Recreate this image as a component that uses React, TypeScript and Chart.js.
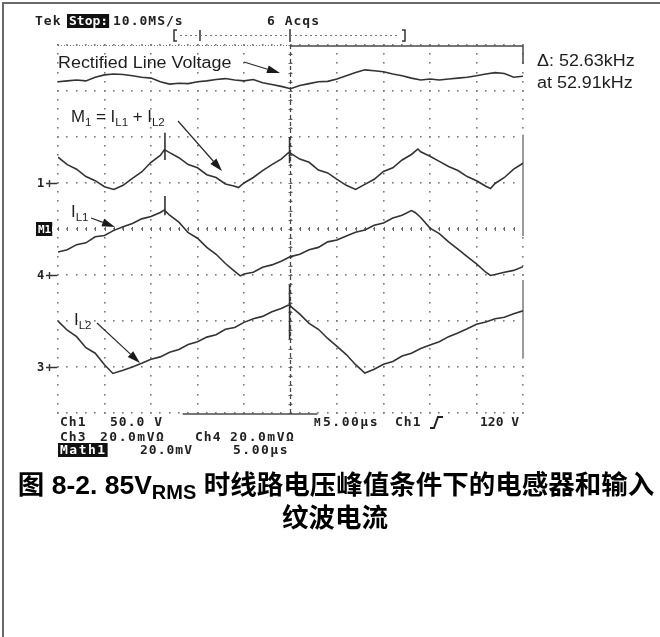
import React, { useEffect, useRef } from "react";
import { Chart, registerables } from "chart.js";

Chart.register(...registerables);

// Time axis: 5.00 µs/div, 10 divisions. Vertical: 8 divisions (value in divisions from bottom).
const timeMin = 0;
const timeMax = 50;
const timePerDiv = 5;
const divCount = 8;

// Rectified line voltage (Ch1)
const lineVoltT = [0,1,2,3,4,5,6,7,8,9,10,11,12,13,14,15,16,17,18,19,20,21,22,23,24,25,26,27,28,29,30,31,32,33,34,35,36,37,38,39,40,41,42,43,44,45,46,47,48,49,50];
const lineVoltV = [7.20,7.22,7.24,7.22,7.30,7.35,7.37,7.36,7.33,7.30,7.28,7.20,7.15,7.17,7.16,7.20,7.22,7.25,7.27,7.24,7.22,7.25,7.18,7.14,7.10,7.05,7.12,7.16,7.20,7.21,7.26,7.33,7.40,7.46,7.44,7.42,7.37,7.33,7.28,7.24,7.26,7.24,7.26,7.28,7.30,7.33,7.37,7.40,7.38,7.30,7.32];

// M1 = IL1 + IL2
const m1T = [0,1,2,3,4,5,6,7,8,9,10,11,11.5,11.5,11.5,11.5,12,13,14,15,16,17,18,19,19.4,20,21,22,23,24,24.9,24.9,24.9,24.9,26,27,28,29,30,31,32,33,34,35,36,37,38,38.7,39,40,41,42,43,44,45,46,46.5,47,48,49,50];
const m1V = [5.56,5.40,5.30,5.14,5.05,4.92,4.86,4.95,5.10,5.24,5.45,5.60,5.74,6.09,5.50,5.72,5.66,5.55,5.40,5.33,5.18,5.12,4.98,4.93,4.90,5.00,5.12,5.27,5.40,5.52,5.68,6.00,5.43,5.66,5.52,5.45,5.28,5.22,5.08,4.95,4.86,4.97,5.08,5.25,5.33,5.50,5.62,5.74,5.68,5.58,5.47,5.36,5.27,5.14,5.05,4.93,4.88,4.99,5.12,5.30,5.43];

// IL1
const il1T = [0,1,2,3,4,5,6,7,8,9,10,11,11.5,11.5,11.5,11.5,12,13,14,15,16,17,18,19,19.6,20,21,22,23,24,25,26,27,28,29,30,31,32,33,34,35,36,37,38,38.4,39,40,41,42,43,44,45,46,46.5,47,48,49,50];
const il1V = [3.50,3.55,3.66,3.70,3.83,3.86,3.97,4.05,4.12,4.22,4.27,4.36,4.42,4.72,4.30,4.40,4.30,4.15,3.92,3.80,3.60,3.45,3.25,3.08,2.98,3.02,3.06,3.17,3.22,3.30,3.40,3.45,3.55,3.60,3.72,3.76,3.85,3.93,3.98,4.08,4.13,4.24,4.30,4.40,4.36,4.25,4.02,3.90,3.72,3.56,3.40,3.24,3.06,2.99,3.01,3.06,3.10,3.18];

// IL2
const il2T = [0,1,2,3,4,5,5.9,7,8,9,10,11,12,13,14,15,16,17,18,19,20,21,22,23,24,24.9,24.9,24.9,24.9,26,27,28,29,30,31,32,33,34,35,36,37,38,39,40,41,42,43,44,45,46,47,48,49,50];
const il2V = [2.00,1.80,1.66,1.42,1.30,1.05,0.86,0.93,1.00,1.08,1.17,1.22,1.32,1.38,1.49,1.55,1.65,1.70,1.82,1.86,1.97,2.05,2.10,2.20,2.27,2.36,2.78,1.60,2.34,2.15,1.95,1.82,1.62,1.45,1.27,1.05,0.87,0.95,1.06,1.12,1.24,1.30,1.40,1.48,1.55,1.66,1.74,1.83,1.93,1.98,2.05,2.08,2.16,2.22];

// Channel reference markers on the left edge
const markerLabels = ["1", "M1", "4", "3"];
const markerLevels = [5, 4, 3, 1];

const captionLine1a = "图 8-2. 85V";
const captionSub = "RMS";
const captionLine1b = " 时线路电压峰值条件下的电感器和输入";
const captionLine2 = "纹波电流";

const SANS = '"Liberation Sans", Arial, sans-serif';
const MONO = '"DejaVu Sans Mono", monospace';
const CAP = '"Liberation Sans", "Noto Sans CJK SC", sans-serif';

type Part = { t: string; sub?: boolean };

function richText(ctx: CanvasRenderingContext2D, parts: Part[], x: number, y: number, size: number, sx = 1.12) {
  let cx = x;
  for (const p of parts) {
    const fs = p.sub ? Math.round(size * 0.68) : size;
    ctx.save();
    ctx.font = `${fs}px ${SANS}`;
    ctx.fillStyle = "#1e1e1e";
    ctx.textBaseline = "alphabetic";
    ctx.translate(cx, y + (p.sub ? 4 : 0));
    ctx.scale(sx, 1);
    ctx.fillText(p.t, 0, 0);
    const w = ctx.measureText(p.t).width * sx;
    ctx.restore();
    cx += w;
  }
}

function scopeText(ctx: CanvasRenderingContext2D, t: string, x: number, y: number, opts: { badge?: boolean; size?: number; spacing?: string } = {}) {
  const size = opts.size ?? 13;
  ctx.save();
  ctx.font = `bold ${size}px ${MONO}`;
  (ctx as any).letterSpacing = opts.spacing ?? "1px";
  ctx.textBaseline = "middle";
  const w = ctx.measureText(t).width;
  if (opts.badge) {
    ctx.fillStyle = "#111";
    ctx.fillRect(x - 2, y - 7, w + 3, 14);
    ctx.fillStyle = "#fff";
  } else {
    ctx.fillStyle = "#222";
  }
  ctx.fillText(t, x, y + 1);
  ctx.restore();
}

function arrow(ctx: CanvasRenderingContext2D, x1: number, y1: number, x2: number, y2: number) {
  const a = Math.atan2(y2 - y1, x2 - x1);
  const L = 13, W = 4;
  const c = Math.cos(a), s = Math.sin(a);
  ctx.save();
  ctx.strokeStyle = "#2a2a2a";
  ctx.fillStyle = "#1a1a1a";
  ctx.lineWidth = 1.2;
  ctx.beginPath();
  ctx.moveTo(x1, y1);
  ctx.lineTo(x2 - L * c, y2 - L * s);
  ctx.stroke();
  ctx.beginPath();
  ctx.moveTo(x2, y2);
  ctx.lineTo(x2 - L * c + W * s, y2 - L * s - W * c);
  ctx.lineTo(x2 - L * c - W * s, y2 - L * s + W * c);
  ctx.closePath();
  ctx.fill();
  ctx.restore();
}

const gridPlugin = {
  id: "scopeGrid",
  beforeDatasetsDraw(chart: any) {
    const { ctx, scales } = chart;
    const x = scales.x, y = scales.y;
    const top = y.getPixelForValue(divCount), bottom = y.getPixelForValue(0);
    const left = x.getPixelForValue(timeMin), right = x.getPixelForValue(timeMax);
    ctx.save();
    ctx.fillStyle = "#7a7a7a";
    for (let i = 0; i <= (timeMax - timeMin) / timePerDiv; i++) {
      const px = Math.round(x.getPixelForValue(timeMin + i * timePerDiv));
      for (let j = 0; j <= divCount * 5; j++) {
        const py = Math.round(y.getPixelForValue(j / 5));
        ctx.fillRect(px - 1, py - 1, 1.6, 1.6);
      }
    }
    for (let k = 0; k <= divCount; k++) {
      const py = Math.round(y.getPixelForValue(k));
      for (let t = timeMin; t <= timeMax; t += timePerDiv / 5) {
        const px = Math.round(x.getPixelForValue(t));
        ctx.fillRect(px - 1, py - 1, 1.6, 1.6);
      }
    }
    // center axis ticks
    const cx = x.getPixelForValue((timeMin + timeMax) / 2);
    const cy = y.getPixelForValue(divCount / 2);
    ctx.strokeStyle = "#666";
    ctx.lineWidth = 1;
    ctx.beginPath();
    for (let t = timeMin; t <= timeMax; t += timePerDiv / 5) {
      const px = Math.round(x.getPixelForValue(t)) + 0.5;
      ctx.moveTo(px, cy - 2);
      ctx.lineTo(px, cy + 2);
    }
    for (let j = 0; j <= divCount * 5; j++) {
      const py = Math.round(y.getPixelForValue(j / 5)) + 0.5;
      ctx.moveTo(cx - 2, py);
      ctx.lineTo(cx + 2, py);
    }
    ctx.stroke();
    // cursor (dashed) at center
    ctx.strokeStyle = "#4a4a4a";
    ctx.lineWidth = 1.3;
    ctx.setLineDash([4, 3]);
    ctx.beginPath();
    ctx.moveTo(cx, top);
    ctx.lineTo(cx, bottom);
    ctx.stroke();
    ctx.setLineDash([]);
    // frame pieces
    ctx.strokeStyle = "#4a4a4a";
    ctx.lineWidth = 1.5;
    ctx.beginPath();
    ctx.moveTo(cx, top + 1);
    ctx.lineTo(right, top + 1);
    ctx.lineTo(right, top + 19);
    ctx.stroke();
    ctx.strokeStyle = "#9a9a9a";
    ctx.lineWidth = 2;
    ctx.beginPath();
    ctx.moveTo(right, y.getPixelForValue(6.05));
    ctx.lineTo(right, y.getPixelForValue(3.85));
    ctx.moveTo(right, y.getPixelForValue(2.89));
    ctx.lineTo(right, y.getPixelForValue(1.2));
    ctx.stroke();
    ctx.strokeStyle = "#4a4a4a";
    ctx.lineWidth = 1.5;
    ctx.beginPath();
    ctx.moveTo(x.getPixelForValue(13.4), bottom + 1);
    ctx.lineTo(x.getPixelForValue(27.9), bottom + 1);
    ctx.stroke();
    ctx.fillStyle = "#777";
    for (let px = left; px < cx; px += 3) ctx.fillRect(px, top, 1, 1);
    ctx.restore();
  },
};

const overlayPlugin = {
  id: "scopeOverlay",
  afterDraw(chart: any) {
    const { ctx, scales } = chart;
    const x = scales.x, y = scales.y;
    const left = x.getPixelForValue(timeMin);
    ctx.save();
    // outer frame
    ctx.strokeStyle = "#6a6a6a";
    ctx.lineWidth = 2;
    ctx.beginPath();
    ctx.moveTo(3, 637);
    ctx.lineTo(3, 3);
    ctx.lineTo(660, 3);
    ctx.stroke();

    // header
    scopeText(ctx, "Tek", 35, 21, { spacing: "1px" });
    scopeText(ctx, "Stop:", 69, 21, { badge: true, spacing: "0px" });
    scopeText(ctx, "10.0MS/s", 113, 21, { spacing: "1px" });
    scopeText(ctx, "6 Acqs", 267, 21, { spacing: "1px" });

    // record bracket
    ctx.strokeStyle = "#333";
    ctx.lineWidth = 1.5;
    ctx.beginPath();
    ctx.moveTo(177, 30); ctx.lineTo(174, 30); ctx.lineTo(174, 41); ctx.lineTo(177, 41);
    ctx.moveTo(402, 30); ctx.lineTo(405, 30); ctx.lineTo(405, 41); ctx.lineTo(402, 41);
    ctx.moveTo(200, 30); ctx.lineTo(200, 41);
    ctx.moveTo(290, 29); ctx.lineTo(290, 42);
    ctx.stroke();
    ctx.strokeStyle = "#777";
    ctx.lineWidth = 1;
    ctx.setLineDash([2, 3]);
    ctx.beginPath();
    ctx.moveTo(180, 35.5); ctx.lineTo(400, 35.5);
    ctx.stroke();
    ctx.setLineDash([]);

    // left channel markers
    markerLabels.forEach((lab, i) => {
      const py = y.getPixelForValue(markerLevels[i]);
      if (lab === "M1") {
        scopeText(ctx, "M1", 38, py, { badge: true, size: 11, spacing: "0px" });
        ctx.fillStyle = "#fff";
        ctx.beginPath();
        ctx.moveTo(52, py - 3); ctx.lineTo(55, py); ctx.lineTo(52, py + 3); ctx.closePath();
        ctx.fill();
      } else {
        scopeText(ctx, lab, 37, py, { size: 12, spacing: "0px" });
        ctx.strokeStyle = "#333";
        ctx.lineWidth = 1.4;
        ctx.beginPath();
        ctx.moveTo(46, py + 0.5); ctx.lineTo(left - 1, py + 0.5);
        ctx.moveTo(49.5, py - 3); ctx.lineTo(49.5, py + 4);
        ctx.stroke();
      }
    });

    // annotations
    richText(ctx, [{ t: "Rectified Line Voltage" }], 58, 68, 16);
    arrow(ctx, 244, 62, 280, 73);
    richText(ctx, [{ t: "Δ: 52.63kHz" }], 537, 66, 16);
    richText(ctx, [{ t: "at 52.91kHz" }], 537, 88, 16);
    richText(ctx, [{ t: "M" }, { t: "1", sub: true }, { t: " = I" }, { t: "L1", sub: true }, { t: " + I" }, { t: "L2", sub: true }], 71, 122, 16, 1.05);
    arrow(ctx, 178, 121, 222, 171);
    richText(ctx, [{ t: "I" }, { t: "L1", sub: true }], 71, 217, 16, 1.05);
    arrow(ctx, 91, 218, 115, 227);
    richText(ctx, [{ t: "I" }, { t: "L2", sub: true }], 74, 325, 16, 1.05);
    arrow(ctx, 97, 323, 140, 363);

    // bottom readouts
    scopeText(ctx, "Ch1", 60, 422);
    scopeText(ctx, "50.0 V", 110, 422);
    scopeText(ctx, "M", 314, 422, { size: 11, spacing: "0px" });
    scopeText(ctx, "5.00µs", 323, 422, { spacing: "1.5px" });
    scopeText(ctx, "Ch1", 395, 422);
    ctx.strokeStyle = "#222";
    ctx.lineWidth = 2;
    ctx.beginPath();
    ctx.moveTo(430, 428); ctx.lineTo(434, 428); ctx.lineTo(438, 417); ctx.lineTo(443, 417);
    ctx.stroke();
    scopeText(ctx, "120 V", 480, 422, { spacing: "0px" });
    scopeText(ctx, "Ch3", 60, 437);
    scopeText(ctx, "20.0mVΩ", 100, 437, { spacing: "1.5px" });
    scopeText(ctx, "Ch4", 195, 437);
    scopeText(ctx, "20.0mVΩ", 230, 437, { spacing: "1.5px" });
    scopeText(ctx, "Math1", 60, 450, { badge: true, spacing: "1.5px" });
    scopeText(ctx, "20.0mV", 140, 450);
    scopeText(ctx, "5.00µs", 233, 450, { spacing: "1.5px" });

    // caption
    const big = `bold 26.5px ${CAP}`;
    const small = `bold 20px ${CAP}`;
    ctx.fillStyle = "#000";
    ctx.textBaseline = "alphabetic";
    ctx.font = big;
    const wa = ctx.measureText(captionLine1a).width;
    const wb = ctx.measureText(captionLine1b).width;
    ctx.font = small;
    const ws = ctx.measureText(captionSub).width;
    const total = wa + ws + wb;
    let sx = 336 - total / 2;
    ctx.font = big;
    ctx.fillText(captionLine1a, sx, 494);
    sx += wa;
    ctx.font = small;
    ctx.fillText(captionSub, sx, 499);
    sx += ws;
    ctx.font = big;
    ctx.fillText(captionLine1b, sx, 494);
    ctx.textAlign = "center";
    ctx.fillText(captionLine2, 335, 527);
    ctx.restore();
  },
};

function series(t: number[], v: number[]) {
  return t.map((tt, i) => ({ x: tt, y: v[i] }));
}

export default function App() {
  const ref = useRef<HTMLCanvasElement | null>(null);
  useEffect(() => {
    if (!ref.current) return;
    const style = { borderColor: "#333", borderWidth: 1.6, pointRadius: 0, fill: false, tension: 0 };
    const chart = new Chart(ref.current, {
      type: "line",
      data: {
        datasets: [
          { label: "Rectified Line Voltage", data: series(lineVoltT, lineVoltV), ...style },
          { label: "M1 = IL1 + IL2", data: series(m1T, m1V), ...style },
          { label: "IL1", data: series(il1T, il1V), ...style },
          { label: "IL2", data: series(il2T, il2V), ...style },
        ],
      },
      options: {
        responsive: false,
        animation: false,
        devicePixelRatio: 1,
        layout: { padding: { left: 58, top: 45, right: 137, bottom: 224 } },
        plugins: { legend: { display: false }, tooltip: { enabled: false }, title: { display: false } },
        scales: {
          x: { type: "linear", min: timeMin, max: timeMax, display: false },
          y: { type: "linear", min: 0, max: divCount, display: false },
        },
      },
      plugins: [gridPlugin, overlayPlugin],
    });
    return () => chart.destroy();
  }, []);
  return (
    <div style={{ position: "absolute", left: 0, top: 0, width: 660, height: 637, background: "#fff" }}>
      <canvas ref={ref} width={660} height={637} style={{ display: "block", width: 660, height: 637 }} />
    </div>
  );
}
